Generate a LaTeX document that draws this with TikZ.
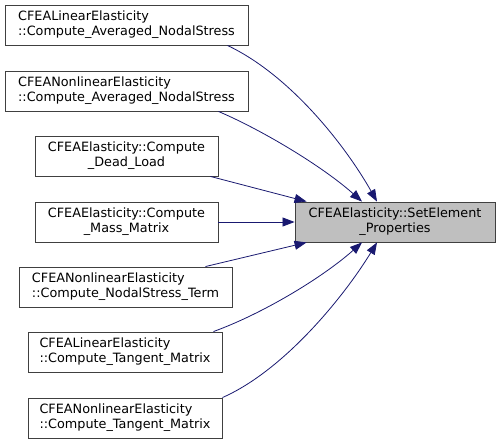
\documentclass[tikz,border=0pt]{standalone}
\usepackage{fontspec}
\setmainfont{DejaVu Sans}
\usetikzlibrary{arrows.meta}

\definecolor{edgeblue}{HTML}{191970}
\definecolor{boxgray}{HTML}{404040}
\definecolor{mainfill}{HTML}{BFBFBF}

\tikzset{
  fnbox/.style={draw=boxgray, line width=0.9pt, minimum height=40pt, inner sep=2pt,
    font=\fontsize{12.8}{15}\selectfont, align=left},
  callarrow/.style={->, draw=edgeblue, line width=0.8pt}
}

\begin{document}
\begin{tikzpicture}[>={Triangle[length=12pt,width=9pt]}, x=1pt, y=-1pt]
    \useasboundingbox (0,0) rectangle (500,444);

    \node[fnbox, minimum width=243pt] (avgLin) at (126.5,25) {CFEALinearElasticity\\::Compute\_Averaged\_NodalStress};
    \node[fnbox, minimum width=243pt] (avgNonlin) at (126.5,91) {CFEANonlinearElasticity\\::Compute\_Averaged\_NodalStress};
    \node[fnbox, minimum width=183pt, align=center] (deadLoad) at (126.5,156) {CFEAElasticity::Compute\\\_Dead\_Load};
    \node[fnbox, minimum width=183pt, align=center] (massMat) at (126.5,222) {CFEAElasticity::Compute\\\_Mass\_Matrix};
    \node[fnbox, minimum width=213pt] (nodalTerm) at (125.5,287) {CFEANonlinearElasticity\\::Compute\_NodalStress\_Term};
    \node[fnbox, minimum width=194pt] (tanLin) at (125,352) {CFEALinearElasticity\\::Compute\_Tangent\_Matrix};
    \node[fnbox, minimum width=194pt] (tanNonlin) at (125,418) {CFEANonlinearElasticity\\::Compute\_Tangent\_Matrix};

    \node[fnbox, fill=mainfill, minimum width=200pt, align=center] (setProps) at (395,222) {CFEAElasticity::SetElement\\\_Properties};

    \draw[callarrow] ([xshift=-21pt]avgLin.south east) .. controls (290,75) and (345,145) .. ([xshift=-18pt]setProps.north);
    \draw[callarrow] ([xshift=-30pt]avgNonlin.south east) .. controls (262,130) and (322,166) .. ([xshift=-33pt]setProps.north);
    \draw[callarrow] ([xshift=-8pt]deadLoad.south east) -- ([xshift=12pt]setProps.north west);
    \draw[callarrow] (massMat.east) -- (setProps.west);
    \draw[callarrow] ([xshift=-27pt]nodalTerm.north east) -- ([xshift=12pt]setProps.south west);
    \draw[callarrow] ([xshift=-9pt]tanLin.north east) .. controls (262,314) and (322,278) .. ([xshift=-33pt]setProps.south);
    \draw[callarrow] (tanNonlin.north east) .. controls (285,370) and (345,295) .. ([xshift=-18pt]setProps.south);
\end{tikzpicture}
\end{document}
